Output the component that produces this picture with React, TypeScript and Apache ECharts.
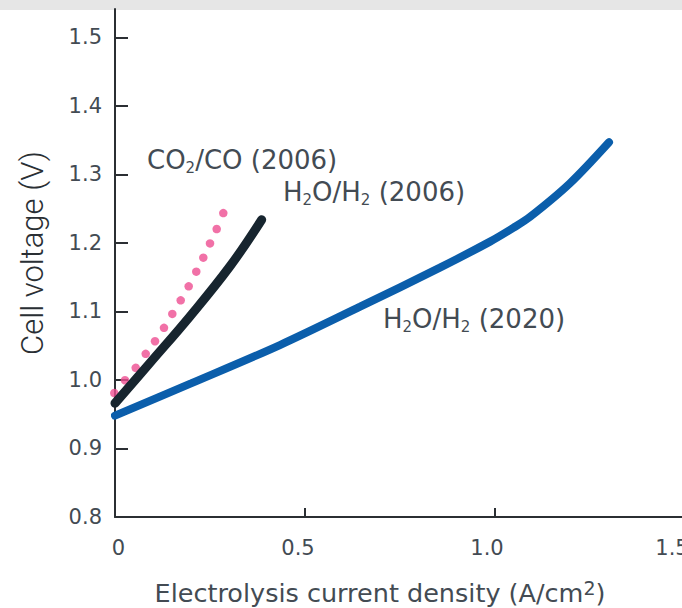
import { useEffect, useRef } from "react";
import * as echarts from "echarts";

const FONT = "'DejaVu Sans', Verdana, sans-serif";
const TEXT = "#434b53";

// Axis ticks
const xTicks = [0, 0.5, 1.0, 1.5];
const yTicks = [0.8, 0.9, 1.0, 1.1, 1.2, 1.3, 1.4, 1.5];

// CO2/CO electrolysis, 2006 (measured points, drawn as dots)
const co2X = [-0.0018, 0.0263, 0.0545, 0.0808, 0.1053, 0.1289, 0.1508, 0.1729, 0.1939, 0.2139, 0.2324, 0.25, 0.2676, 0.285];
const co2Y = [0.981, 0.9997, 1.0178, 1.0382, 1.0566, 1.0761, 1.0965, 1.1163, 1.1367, 1.1582, 1.1786, 1.1994, 1.2204, 1.2437];

// H2O/H2 electrolysis, 2006
const h2o06X = [0, 0.0921, 0.1974, 0.3026, 0.386];
const h2o06Y = [0.966, 1.025, 1.093, 1.166, 1.234];

// H2O/H2 electrolysis, 2020
const h2o20X = [0, 0.2, 0.434, 0.645, 0.855, 0.987, 1.048, 1.092, 1.197, 1.3];
const h2o20Y = [0.948, 0.995, 1.051, 1.107, 1.164, 1.202, 1.222, 1.238, 1.287, 1.347];

const zip = (xs: number[], ys: number[]) => xs.map((x, i) => [x, ys[i]]);

const subRich = {
  s: { fontSize: 15, lineHeight: 4, verticalAlign: "bottom", fill: TEXT, fontFamily: FONT },
};

function note(text: string, x: number, y: number) {
  return {
    type: "text",
    x,
    y,
    z: 10,
    style: {
      text,
      fill: TEXT,
      fontFamily: FONT,
      fontSize: 26,
      lineHeight: 30,
      align: "left",
      verticalAlign: "middle",
      rich: subRich,
    },
  };
}

// x tick labels sit slightly off their ticks; each gets its own nudge
const xLabelStyle = (padding: number[]) => ({
  color: TEXT,
  fontFamily: FONT,
  fontSize: 21,
  padding,
});

export default function App() {
  const ref = useRef<HTMLDivElement>(null);

  useEffect(() => {
    if (!ref.current) return;
    const chart = echarts.init(ref.current, undefined, { renderer: "svg" });
    chart.setOption({
      animation: false,
      backgroundColor: "#ffffff",
      grid: { left: 115, right: 15, top: 9, bottom: 91, containLabel: false, outerBoundsMode: "none" },
      xAxis: {
        type: "value",
        min: 0,
        max: 1.5,
        interval: 0.5,
        name: "Electrolysis current density (A/cm{sup|2})",
        nameLocation: "middle",
        nameGap: 61,
        nameTextStyle: {
          color: TEXT,
          fontFamily: FONT,
          fontSize: 25.5,
          lineHeight: 30,
          padding: [0, 40, 0, 0],
          rich: {
            sup: { fontSize: 19, lineHeight: 26, verticalAlign: "top", color: TEXT, fontFamily: FONT },
          },
        },
        axisLine: { show: true, lineStyle: { color: "#2b2f33", width: 2 } },
        axisTick: {
          show: true,
          inside: true,
          length: 9,
          customValues: xTicks,
          lineStyle: { color: "#2b2f33", width: 2 },
        },
        axisLabel: {
          customValues: xTicks,
          color: TEXT,
          fontFamily: FONT,
          fontSize: 21,
          margin: 20,
          formatter: (v: number) => {
            const idx = xTicks.findIndex((t) => Math.abs(t - v) < 1e-9);
            const txt = v === 0 ? "0" : v.toFixed(1);
            return `{t${idx < 0 ? 0 : idx}|${txt}}`;
          },
          rich: {
            t0: xLabelStyle([0, 0, 0, 7]),
            t1: xLabelStyle([0, 14, 0, 0]),
            t2: xLabelStyle([0, 16, 0, 0]),
            t3: xLabelStyle([0, 26, 0, 0]),
          },
        },
        splitLine: { show: false },
      },
      yAxis: {
        type: "value",
        min: 0.8,
        max: 1.5416,
        name: "Cell voltage (V)",
        nameLocation: "middle",
        nameGap: 67,
        nameRotate: 90,
        nameTextStyle: {
          color: "#2a2f34",
          fontFamily: "Roboto, 'Noto Sans', sans-serif",
          fontWeight: 300,
          fontSize: 31,
          padding: [0, 0, 0, 20],
        },
        axisLine: { show: true, lineStyle: { color: "#2b2f33", width: 2 } },
        axisTick: {
          show: true,
          inside: true,
          length: 13,
          customValues: yTicks,
          lineStyle: { color: "#2b2f33", width: 2 },
        },
        axisLabel: {
          customValues: yTicks,
          color: TEXT,
          fontFamily: FONT,
          fontSize: 21,
          margin: 13,
          formatter: (v: number) => v.toFixed(1),
        },
        splitLine: { show: false },
      },
      graphic: [
        {
          type: "rect",
          z: -1,
          shape: { x: 0, y: 0, width: 700, height: 10 },
          style: { fill: "#e6e6e6" },
        },
        note("CO{s|2}/CO (2006)", 147, 160),
        note("H{s|2}O/H{s|2} (2006)", 283, 192),
        note("H{s|2}O/H{s|2} (2020)", 383, 319),
      ],
      series: [
        {
          name: "H2O/H2 (2020)",
          type: "line",
          data: zip(h2o20X, h2o20Y),
          smooth: 0.3,
          showSymbol: false,
          clip: false,
          lineStyle: { color: "#0b5eab", width: 8, cap: "round" },
        },
        {
          name: "H2O/H2 (2006)",
          type: "line",
          data: zip(h2o06X, h2o06Y),
          smooth: 0.4,
          showSymbol: false,
          clip: false,
          lineStyle: { color: "#17252f", width: 9, cap: "round" },
        },
        {
          name: "CO2/CO (2006)",
          type: "scatter",
          data: zip(co2X, co2Y),
          symbol: "circle",
          symbolSize: 8.5,
          clip: false,
          itemStyle: { color: "#ee4d91" },
        },
      ],
    });
    return () => chart.dispose();
  }, []);

  return (
    <div style={{ position: "fixed", left: 0, top: 0, width: 682, height: 608, overflow: "hidden" }}>
      <div ref={ref} style={{ width: 700, height: 608 }} />
    </div>
  );
}
